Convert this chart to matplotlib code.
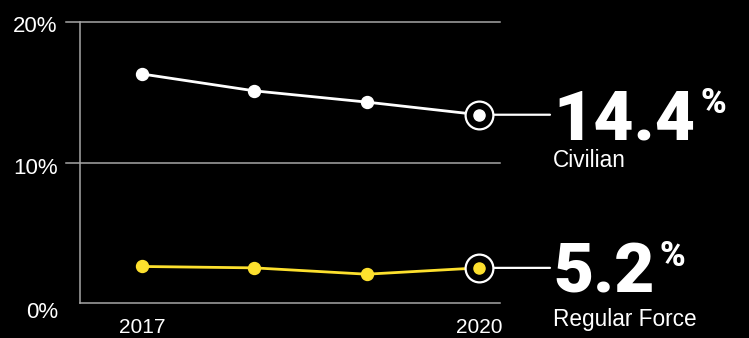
import matplotlib
matplotlib.use("Agg")
import matplotlib.pyplot as plt
from matplotlib.transforms import ScaledTranslation

years = [2017, 2018, 2019, 2020]
civilian = [16.3, 15.1, 14.3, 13.4]
regular = [2.6, 2.5, 2.05, 2.5]
series_names = ["Civilian", "Regular Force"]
headline_values = ["14.4", "5.2"]
ytick_vals = [0, 10, 20]
ytick_labels = ["0%", "10%", "20%"]
xtick_vals = [2017, 2020]
xtick_labels = ["2017", "2020"]

plt.rcParams['font.family'] = ['Liberation Sans', 'DejaVu Sans']

W, H, DPI = 749, 338, 100
fig = plt.figure(figsize=(W / DPI, H / DPI), dpi=DPI, facecolor='black')
ax = fig.add_axes([80 / W, 1 - 303 / H, 420 / W, 281 / H], facecolor='black')

ax.set_xlim(2016.448, 2020.187)
ax.set_ylim(0, 20)

grid_c = '#a6a6a6'
for spine in ['top', 'right', 'bottom']:
    ax.spines[spine].set_visible(False)
ax.spines['left'].set_color(grid_c)
ax.spines['left'].set_linewidth(1.1)

ytr = ax.get_yaxis_transform()
for v in ytick_vals:
    x0 = -14 / 420 if v != 0 else 0
    ax.plot([x0, 1], [v, v], color=grid_c, lw=1.1, transform=ytr, clip_on=False, zorder=1)

ax.set_yticks(ytick_vals)
ax.set_yticklabels(ytick_labels)
ax.set_xticks(xtick_vals)
ax.set_xticklabels(xtick_labels)
ax.tick_params(axis='y', length=0, pad=16, labelsize=16, labelcolor='white')
ax.tick_params(axis='x', length=0, pad=11, labelsize=15, labelcolor='white')
for lab, dy in zip(ax.get_yticklabels(), [7, 3, 2]):
    lab.set_transform(lab.get_transform() + ScaledTranslation(0, -dy / DPI, fig.dpi_scale_trans))

colors = ['white', '#fde02e']
sub_offsets = [52, 58]
big_family = ['Roboto', 'Liberation Sans', 'DejaVu Sans']
for vals, c, name, head, osub in zip([civilian, regular], colors, series_names, headline_values, sub_offsets):
    ax.plot(years, vals, color=c, lw=2.0, marker='o', ms=8.6, mfc=c, mec=c, zorder=3)
    last = (years[-1], vals[-1])
    ax.plot([last[0]], [last[1]], marker='o', ms=20, mfc='black', mec='white', mew=1.6, zorder=4, ls='none')
    ax.plot([last[0]], [last[1]], marker='o', ms=8.0, mfc=c, mec=c, zorder=5, ls='none')
    ax.annotate('', xy=last, xycoords='data',
                xytext=(71, 0), textcoords='offset pixels',
                arrowprops=dict(arrowstyle='-', color='white', lw=1.6, shrinkA=0, shrinkB=10),
                annotation_clip=False)
    big = ax.annotate(head, xy=last, xycoords='data',
                      xytext=(74, -25), textcoords='offset pixels',
                      ha='left', va='baseline', fontsize=50, fontweight='black', color='white',
                      family=big_family, annotation_clip=False)
    ax.annotate('%', xy=(1, last[1]), xycoords=(big, 'data'), xytext=(5, 2), textcoords='offset pixels',
                ha='left', va='baseline', fontsize=25, fontweight='black', color='white',
                family=big_family, annotation_clip=False)
    ax.annotate(name, xy=last, xycoords='data', xytext=(74, -osub), textcoords='offset pixels',
                ha='left', va='baseline', fontsize=16.3, color='white', annotation_clip=False)

fig.savefig('out.png', dpi=DPI, facecolor='black')
